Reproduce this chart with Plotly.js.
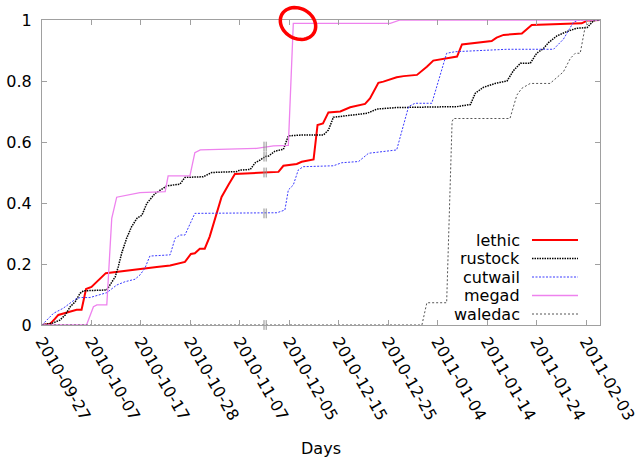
<!DOCTYPE html>
<html><head><meta charset="utf-8">
<script src="https://cdn.plot.ly/plotly-3.0.1.min.js"></script>
<style>html,body{margin:0;padding:0;background:#fff}</style>
</head><body><div id="chart" style="width:639px;height:458px"></div>
<script>
// x values are day indices (days in the plotted sequence); ticks every 10 days
const tickVals = [0,10,20,30,40,50,60,70,80,90,100,110];
const tickLabels = ['2010-09-27','2010-10-07','2010-10-17','2010-10-28','2010-11-07','2010-12-05',
                    '2010-12-15','2010-12-25','2011-01-04','2011-01-14','2011-01-24','2011-02-03'];
const yTicks = [0,0.2,0.4,0.6,0.8,1];
const seriesNames = ['lethic','rustock','cutwail','megad','waledac'];

const lethicX = [0,1.6,2.6,3.3,7,8,8.9,10,12.9,19.8,23.2,25.9,28.9,30.1,30.9,31.9,32.9,33.9,36.3,37.7,39,44.8,47.8,48.8,51.5,52.5,54.9,55.7,56.8,57.9,60.3,62.3,64.3,65.3,66.3,68,69,71.7,73.1,75.8,77.8,79.1,83.9,84.9,90.9,91.9,93.3,97,99,109.1,110.2,112.8];
const lethicY = [0,0.003,0.02,0.033,0.05,0.05,0.118,0.125,0.17,0.185,0.19,0.195,0.207,0.233,0.235,0.25,0.25,0.29,0.42,0.46,0.495,0.5,0.502,0.522,0.528,0.535,0.543,0.656,0.661,0.697,0.7,0.714,0.721,0.725,0.743,0.794,0.798,0.812,0.816,0.82,0.847,0.867,0.88,0.92,0.931,0.942,0.951,0.956,0.984,0.989,0.998,1];

const rustockX = [0,2.3,3.6,4.7,5.7,6.7,7.7,8.4,13.1,13.8,14.8,15.4,16.1,17.1,18.1,19.2,20.2,21.2,22.9,24.5,25.2,27.9,28.9,32.6,34.3,39.4,40,42.1,43.1,44.1,45.1,45.8,47.1,48.8,49.8,52.5,56.9,57.9,58.9,60.9,65.7,67.7,71.7,83.9,86.6,87.6,89.2,91.6,94,95.3,96.7,98.7,100,101.4,102.4,104.1,106.1,108.1,110.2,111.5,112.8];
const rustockY = [0,0.007,0.016,0.033,0.06,0.076,0.104,0.112,0.115,0.131,0.158,0.19,0.235,0.284,0.322,0.35,0.36,0.399,0.432,0.448,0.456,0.462,0.484,0.486,0.5,0.503,0.508,0.51,0.532,0.541,0.552,0.554,0.57,0.576,0.62,0.623,0.623,0.639,0.681,0.685,0.694,0.708,0.713,0.716,0.723,0.76,0.779,0.792,0.8,0.834,0.858,0.858,0.891,0.907,0.926,0.948,0.962,0.973,0.975,0.998,1];

const cutwailX = [0,2.3,4.3,6.7,7.7,9.7,11.4,13.1,15.1,16.8,18.8,19.8,20.8,21.8,25.9,26.9,27.9,28.9,30.9,44.1,47.5,49.1,49.8,50.8,51.8,52.8,58.9,60.6,64,66,69,71.7,74.1,75.4,78.8,81.8,83.5,91.9,94,103.4,105.4,107.4,108.5,112.8];
const cutwailY = [0,0.038,0.055,0.084,0.09,0.09,0.098,0.106,0.131,0.142,0.15,0.164,0.186,0.226,0.23,0.284,0.295,0.295,0.366,0.366,0.368,0.377,0.443,0.459,0.508,0.519,0.522,0.532,0.536,0.563,0.568,0.574,0.716,0.727,0.727,0.891,0.896,0.902,0.904,0.904,0.937,0.992,1,1];

const megadX = [0,9,10.4,11.1,13.1,14.1,15.1,16.4,19.8,24.9,25.5,29.9,30.9,32,38.7,43.4,46.8,49.8,50.8,70.4,72.4,112.8];
const megadY = [0,0,0.06,0.066,0.066,0.35,0.419,0.423,0.434,0.437,0.489,0.489,0.565,0.574,0.576,0.579,0.587,0.589,0.989,0.989,1,1];

const waledacX = [0,76.8,77.8,81.8,82.9,83.2,94.6,96,97,98.7,102.7,103.7,105.4,106.8,107.8,108.8,109.8,110.8,112.2,112.8];
const waledacY = [0,0,0.073,0.073,0.667,0.677,0.677,0.754,0.776,0.792,0.792,0.805,0.83,0.874,0.891,0.891,0.978,0.995,1,1];

// axis-break marks (date gap between 2010-11-07 and 2010-12-05)
const breakX = 45.1;
const breakY = [0.5, 0.552, 0.366, 0.585, 0];

const xs = [lethicX, rustockX, cutwailX, megadX, waledacX];
const ys = [lethicY, rustockY, cutwailY, megadY, waledacY];
const styles = [
  {color:'#ff0000', width:2, dash:'solid'},
  {color:'#000000', width:1.5, dash:'1.5px,1px'},
  {color:'#3a3aff', width:1, dash:'2px,1.5px'},
  {color:'#ee82ee', width:1.3, dash:'solid'},
  {color:'#555555', width:1, dash:'2px,2px'}
];

const FONT = 'DejaVu Sans, Verdana, sans-serif';
const traces = seriesNames.map((n,i)=>({
  type:'scatter', mode:'lines', name:n, x:xs[i], y:ys[i],
  line:Object.assign({shape:'linear'}, styles[i]), showlegend:false, hoverinfo:'skip'
}));
[-0.22, 0.22].forEach(off=>{
  traces.push({type:'scatter', mode:'markers', x:breakY.map(()=>breakX+off), y:breakY,
    marker:{symbol:'line-ns-open', size:7, color:'#909090', line:{color:'#909090', width:1}},
    cliponaxis:false, showlegend:false, hoverinfo:'skip'});
});

// legend (gnuplot style: text right-aligned, sample line to the right)
const L_L = 42, L_W = 558, T_T = 20, T_H = 305;
const px2x = p => (p - L_L) / L_W;
const py2y = p => (T_T + T_H - p) / T_H;
const legendRows = [240, 258.5, 277, 295.5, 314];
const annotations = [];
const shapes = [];
seriesNames.forEach((n,i)=>{
  annotations.push({xref:'paper', yref:'paper', x:px2x(522), y:py2y(legendRows[i]),
    xanchor:'right', yanchor:'middle', text:n, showarrow:false,
    font:{family:FONT, size:16, color:'#000'}});
  shapes.push({type:'line', xref:'paper', yref:'paper', x0:px2x(532), x1:px2x(578),
    y0:py2y(legendRows[i]), y1:py2y(legendRows[i]), line:styles[i]});
});
// hand-drawn highlight ellipse (slightly tilted)
(function(){
  const cx = 298, cy = 23.5, a = 18.5, b = 15, rot = 30 * Math.PI / 180;
  let d = '';
  for (let k = 0; k <= 48; k++) {
    const t = 2 * Math.PI * k / 48;
    const ex = a * Math.cos(t), ey = b * Math.sin(t);
    const px = cx + ex * Math.cos(rot) - ey * Math.sin(rot);
    const py = cy + ex * Math.sin(rot) + ey * Math.cos(rot);
    d += (k === 0 ? 'M' : 'L') + px2x(px).toFixed(5) + ',' + py2y(py).toFixed(5);
  }
  shapes.push({type:'path', xref:'paper', yref:'paper', path:d + 'Z',
    line:{color:'#ff0000', width:3.5}});
})();

const axisCommon = {showline:true, mirror:'ticks', linecolor:'#a0a0a0', linewidth:1,
  ticks:'inside', ticklen:5, tickcolor:'#a0a0a0', showgrid:false, zeroline:false,
  tickfont:{family:FONT, size:16, color:'#000'}};

const layout = {
  width:639, height:458, margin:{l:42, r:39, t:20, b:133},
  paper_bgcolor:'#fff', plot_bgcolor:'#fff', showlegend:false,
  font:{family:FONT, size:16, color:'#000'},
  xaxis:Object.assign({}, axisCommon, {range:[0,112.8], tickvals:tickVals, ticktext:tickLabels,
    tickangle:60, title:{text:'Days', font:{family:FONT, size:16}, standoff:22}}),
  yaxis:Object.assign({}, axisCommon, {range:[0,1], tickvals:yTicks, ticklabelstandoff:6}),
  annotations:annotations, shapes:shapes
};
Plotly.newPlot('chart', traces, layout, {staticPlot:true, displayModeBar:false});
</script>
</body></html>
